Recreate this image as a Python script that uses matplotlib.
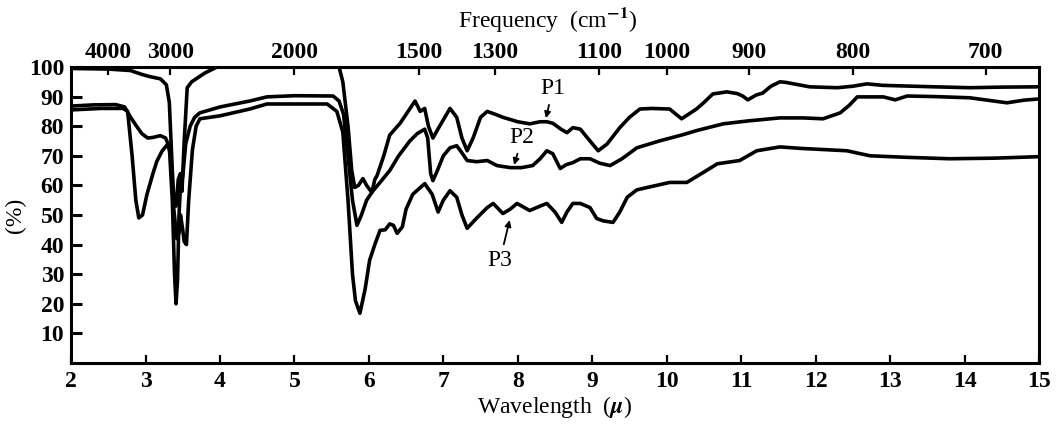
import numpy as np
import matplotlib
matplotlib.use('Agg')
import matplotlib.pyplot as plt

plt.rcParams['font.family'] = ['Liberation Serif', 'DejaVu Serif']
plt.rcParams['font.weight'] = 'bold'
plt.rcParams['mathtext.fontset'] = 'stix'

# wavelength (micron) / transmittance (%)
p1_x = [2.0, 2.5, 2.8, 2.95, 3.05, 3.2, 3.28, 3.32, 3.36, 3.38, 3.41, 3.44, 3.47, 3.49, 3.52, 3.56,
        3.62, 3.8, 3.96, 5.6, 5.65, 5.72, 5.77, 5.81, 5.86, 5.92, 5.97, 6.04, 6.08, 6.11, 6.2, 6.28,
        6.35, 6.42, 6.5, 6.58, 6.62, 6.69, 6.75, 6.8, 6.86, 6.95, 7.09, 7.18, 7.25, 7.32, 7.4, 7.5,
        7.59, 7.7, 7.8, 8.0, 8.16, 8.3, 8.39, 8.47, 8.58, 8.66, 8.74, 8.84, 8.97, 9.08, 9.2, 9.37,
        9.5, 9.64, 9.8, 10.04, 10.2, 10.4, 10.5, 10.62, 10.81, 10.95, 11.02, 11.09, 11.2, 11.29,
        11.4, 11.52, 11.6, 11.92, 12.29, 12.5, 12.69, 12.9, 13.17, 13.6, 14.07, 14.5, 15.0]
p1_y = [99.5, 99.3, 98.8, 97.5, 96.8, 96, 94, 88, 65, 55, 53, 62, 64, 58, 75, 93,
        95, 98, 100, 100, 95, 80, 65, 59.3, 60, 62.3, 60, 57.6, 62, 63.3, 70, 77,
        79, 81, 84, 87, 88.5, 85, 86, 80, 76, 80, 86, 83, 76, 71.7, 76, 83,
        85, 84, 83, 81.5, 80.8, 81.5, 81.5, 81, 79, 77.8, 79.5, 79, 75, 71.7, 74, 79.5,
        83, 85.8, 86, 85.8, 82.5, 85.8, 88, 90.9, 91.6, 91, 90.2, 88.9, 90.5, 91.2,
        93.5, 95, 94.8, 93.3, 93, 93.5, 94.3, 93.8, 93.6, 93.3, 93, 93.2, 93.3]

p2_x = [2.0, 2.3, 2.6, 2.72, 2.8, 2.88, 2.95, 3.03, 3.1, 3.2, 3.27, 3.32, 3.36, 3.39, 3.41, 3.43,
        3.45, 3.47, 3.5, 3.54, 3.6, 3.66, 3.73, 4.0, 4.4, 4.63, 5.0, 5.52, 5.6, 5.66, 5.72, 5.78,
        5.84, 5.9, 5.97, 6.05, 6.15, 6.28, 6.4, 6.55, 6.65, 6.75, 6.79, 6.83, 6.86, 6.92, 7.0, 7.09,
        7.18, 7.25, 7.32, 7.45, 7.59, 7.72, 7.9, 8.05, 8.2, 8.3, 8.39, 8.47, 8.57, 8.65, 8.74, 8.84,
        8.97, 9.1, 9.24, 9.4, 9.6, 9.9, 10.2, 10.4, 10.76, 11.1, 11.52, 11.83, 12.1, 12.33, 12.45,
        12.56, 12.91, 13.07, 13.23, 13.6, 14.07, 14.57, 14.8, 15.0]
p2_y = [86.8, 87.2, 87.3, 86.5, 83, 80, 77.5, 76, 76.2, 76.8, 76, 73, 55, 30, 20, 28,
        50, 60, 63, 74, 80, 83, 84.5, 86.5, 88.5, 89.9, 90.3, 90.2, 88.5, 84, 70, 55,
        46.5, 50, 55, 58, 61, 65, 70, 75, 77.5, 79, 76, 64, 61.6, 65, 70, 72.7,
        73.4, 71, 68.4, 68, 68.4, 66.7, 66, 66, 66.7, 69, 71.7, 70.7, 65.7, 67, 67.7, 69,
        69, 67.5, 66.7, 69, 72.7, 75, 77, 78.5, 80.8, 81.8, 82.8, 82.8, 82.5, 84.5, 87,
        89.9, 89.9, 88.9, 90.2, 90, 89.6, 87.9, 88.8, 89.2]

p3_x = [2.0, 2.4, 2.7, 2.76, 2.82, 2.87, 2.91, 2.96, 3.02, 3.1, 3.15, 3.22, 3.3, 3.34, 3.38, 3.42,
        3.45, 3.47, 3.5, 3.52, 3.55, 3.58, 3.63, 3.68, 3.73, 4.0, 4.4, 4.63, 5.44, 5.57, 5.65, 5.72,
        5.78, 5.82, 5.88, 5.95, 6.01, 6.08, 6.15, 6.22, 6.28, 6.33, 6.38, 6.45, 6.5, 6.59, 6.75, 6.85,
        6.93, 7.0, 7.09, 7.18, 7.25, 7.32, 7.45, 7.59, 7.67, 7.8, 7.9, 7.99, 8.16, 8.3, 8.39, 8.5,
        8.59, 8.66, 8.74, 8.84, 8.97, 9.06, 9.15, 9.28, 9.37, 9.47, 9.6, 9.74, 10.04, 10.27, 10.5,
        10.68, 10.98, 11.21, 11.52, 11.8, 12.42, 12.73, 13.2, 13.8, 14.4, 15.0]
p3_y = [85.5, 86, 86, 85, 70, 55, 49, 50, 57, 64, 68, 71.5, 74, 70, 52, 42,
        44, 50, 45, 41, 40, 55, 72, 80, 82.5, 83.5, 85.8, 87.5, 87.5, 85, 78, 55,
        30, 21, 16.8, 25, 34.7, 40, 44.8, 45, 47, 46.5, 43.8, 46, 52, 57, 60.6, 57,
        51, 55, 58.2, 56, 50, 45.5, 49, 52.5, 53.9, 50.5, 52, 53.9, 51.5, 53, 53.9, 51,
        47.5, 51, 53.9, 53.9, 52.5, 48.8, 48, 47.5, 51, 56, 58.5, 59.3, 61, 61, 64.5,
        67.3, 68.4, 71.7, 73, 72.5, 71.7, 70, 69.5, 69, 69.2, 69.7]

freq_ticks = [4000, 3000, 2000, 1500, 1300, 1100, 1000, 900, 800, 700]

fig = plt.figure(figsize=(10.62, 4.24), dpi=100)
ax = fig.add_axes([0.0669, 0.1439, 0.9114, 0.6981])

for xs, ys in [(p1_x, p1_y), (p2_x, p2_y), (p3_x, p3_y)]:
    ax.plot(xs, ys, color='black', lw=2.6, solid_joinstyle='round')

ax.set_xlim(2, 15)
ax.set_ylim(0, 100)
ax.set_xticks(range(2, 16))
ax.set_yticks(range(10, 101, 10))
ax.tick_params(axis='both', direction='in', length=6, width=1.6, labelsize=17, pad=6)
ax.tick_params(axis='y', length=8, width=2.2, pad=5)
for s in ax.spines.values():
    s.set_linewidth(2.2)

top = ax.secondary_xaxis('top', functions=(lambda x: 1e4 / x, lambda f: 1e4 / f))
top.set_xticks(freq_ticks)
top.tick_params(direction='in', length=6, width=1.6, labelsize=17, pad=3)

ax.set_xlabel(r'Wavelength  ($\mu$)', fontsize=17, weight='normal', labelpad=1)
ax.set_ylabel('(%)', fontsize=17, weight='normal', labelpad=2)
fig.text(0.516, 0.955, r'Frequency  (cm$^{-1}$)', fontsize=17, ha='center', va='center',
         weight='normal')

arrow = dict(arrowstyle='-|>', color='black', lw=1.3, mutation_scale=9)
ax.annotate('P1', xy=(8.37, 81.8), xytext=(8.47, 92.6), fontsize=17, weight='normal',
            ha='center', va='center', arrowprops=arrow)
ax.annotate('P2', xy=(7.94, 66), xytext=(8.06, 76.1), fontsize=17, weight='normal',
            ha='center', va='center', arrowprops=arrow)
ax.annotate('P3', xy=(7.9, 49.2), xytext=(7.76, 34.7), fontsize=17, weight='normal',
            ha='center', va='center', arrowprops=arrow)

fig.savefig('out.png', dpi=100)
